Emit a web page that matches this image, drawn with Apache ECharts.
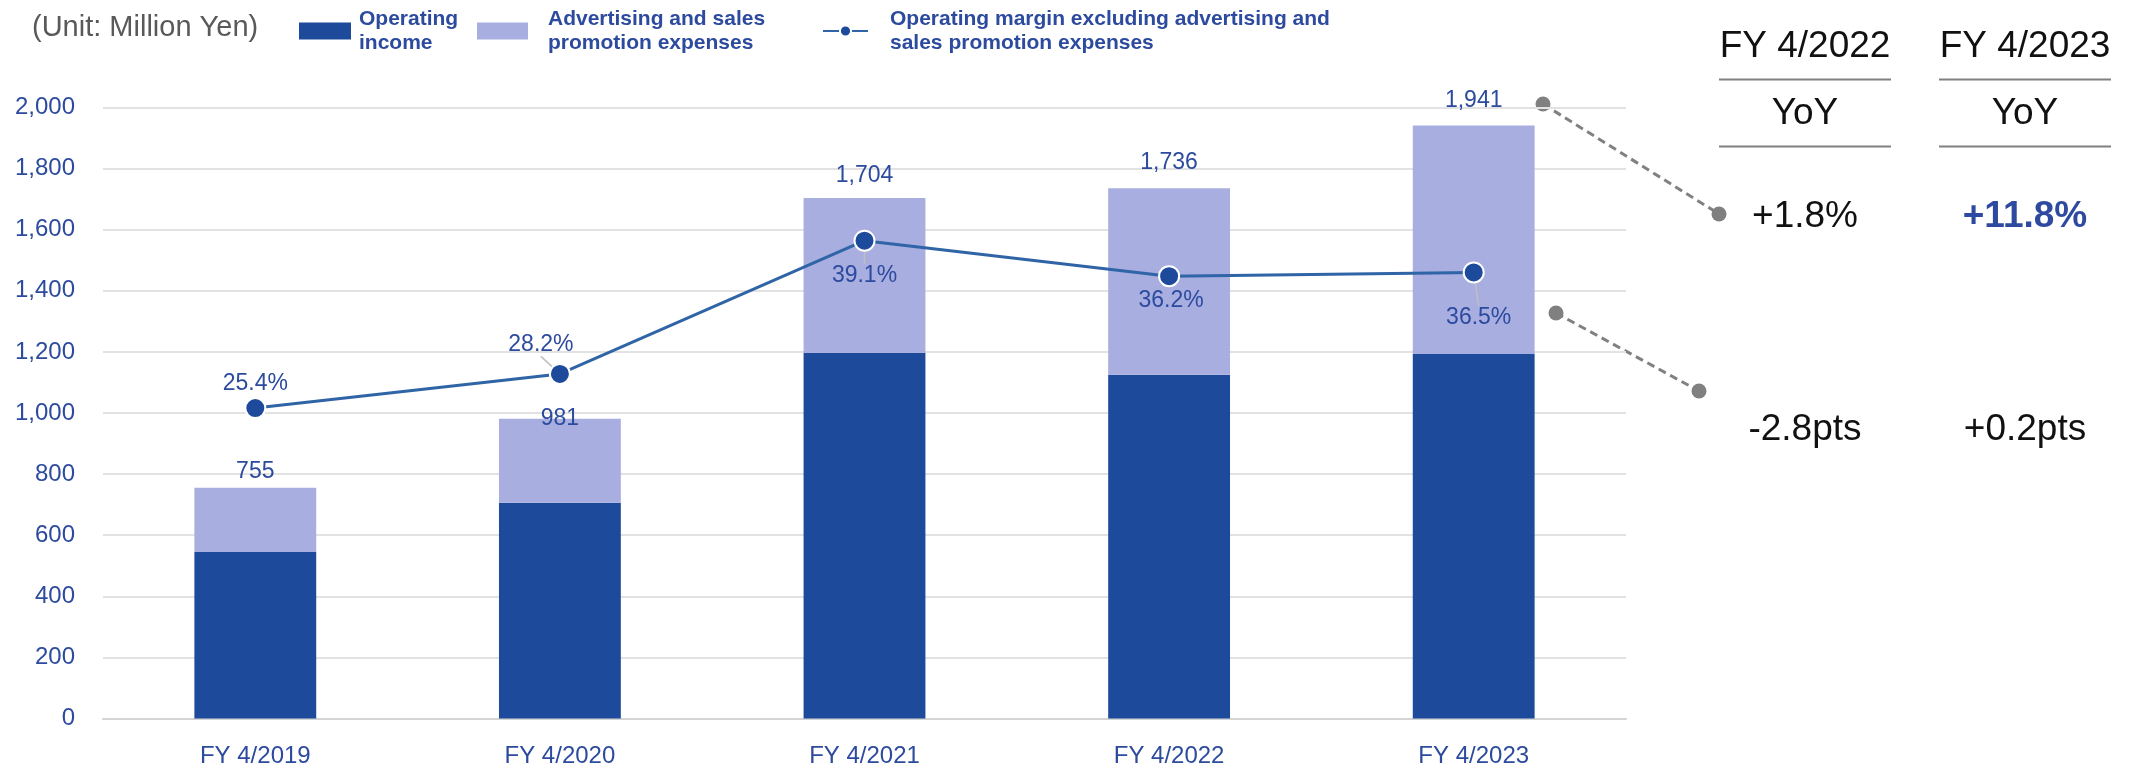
<!DOCTYPE html>
<html>
<head>
<meta charset="utf-8">
<title>Operating income and advertising expenses</title>
<script src="https://cdn.jsdelivr.net/npm/echarts@6/dist/echarts.min.js"></script>
<style>
  html, body { margin: 0; padding: 0; background: #ffffff; }
  #chart { width: 2138px; height: 772px; }
</style>
</head>
<body>
<div id="chart"></div>
<script>
// Fiscal years on the category axis
const categories = ['FY 4/2019', 'FY 4/2020', 'FY 4/2021', 'FY 4/2022', 'FY 4/2023'];
// Operating income + advertising and sales promotion expenses (Million Yen)
const incomePlusAdvertising = [755, 981, 1704, 1736, 1941];
// Operating income (Million Yen)
const operatingIncome = [545, 706, 1197, 1125, 1193];
// Operating margin excluding advertising and sales promotion expenses (%)
const marginExAdvertising = [25.4, 28.2, 39.1, 36.2, 36.5];
// Left axis ticks
const yTicks = { min: 0, max: 2000, step: 200 };
// YoY panel
const yoyYears = ['FY 4/2022', 'FY 4/2023'];
const yoyAmount = ['+1.8%', '+11.8%'];
const yoyMargin = ['-2.8pts', '+0.2pts'];

const advertising = incomePlusAdvertising.map((t, i) => t - operatingIncome[i]);

const FONT = "'Liberation Sans', Arial, Helvetica, sans-serif";
const BLUE_TEXT = '#2C4A9E';
const DARK_BAR = '#1D4A9B';
const LIGHT_BAR = '#A8AEE0';

// label nudges for the total labels (vertical offset) and margin labels
const totalLabelDy = [-1.5, 14.5, -8, -10.5, -10.5];
const marginLabelDx = [0, -19, 0, 2, 5];
const marginLabelDy = [-24.5, -29, 35, 25, 45];
const marginLeader = [false, true, true, false, true];

const chart = echarts.init(document.getElementById('chart'), null, { renderer: 'canvas' });

const legendText = {
  'Operating income': 'Operating\nincome',
  'Advertising and sales promotion expenses': 'Advertising and sales\npromotion expenses',
  'Operating margin excluding advertising and sales promotion expenses':
    'Operating margin excluding advertising and\nsales promotion expenses'
};
const legendTextStyle = (padLeft) => ({
  color: BLUE_TEXT, fontFamily: FONT, fontSize: 21, fontWeight: 'bold',
  lineHeight: 24, padding: [0, 0, 0, padLeft]
});

function panelColumn(cx, year, amount, margin, amountBold) {
  return [
    { type: 'text', x: cx, y: 47, style: { text: year, font: '37px ' + FONT, fill: '#111111', align: 'center', verticalAlign: 'middle' } },
    { type: 'line', shape: { x1: cx - 86, y1: 79.5, x2: cx + 86, y2: 79.5 }, style: { stroke: '#808080', lineWidth: 2 } },
    { type: 'text', x: cx, y: 114, style: { text: 'YoY', font: '37px ' + FONT, fill: '#111111', align: 'center', verticalAlign: 'middle' } },
    { type: 'line', shape: { x1: cx - 86, y1: 146.5, x2: cx + 86, y2: 146.5 }, style: { stroke: '#808080', lineWidth: 2 } },
    { type: 'text', x: cx, y: 217, style: { text: amount, font: (amountBold ? 'bold ' : '') + '37px ' + FONT, fill: amountBold ? '#2E4AA0' : '#111111', align: 'center', verticalAlign: 'middle' } },
    { type: 'text', x: cx, y: 430, style: { text: margin, font: '37px ' + FONT, fill: '#111111', align: 'center', verticalAlign: 'middle' } }
  ];
}

function connector(x1, y1, x2, y2) {
  return [
    { type: 'line', shape: { x1, y1, x2, y2 }, style: { stroke: '#808080', lineWidth: 3, lineDash: [8, 5] } },
    { type: 'circle', shape: { cx: x1, cy: y1, r: 7.5 }, style: { fill: '#808080' } },
    { type: 'circle', shape: { cx: x2, cy: y2, r: 7.5 }, style: { fill: '#808080' } }
  ];
}

const option = {
  backgroundColor: '#ffffff',
  animation: false,
  textStyle: { fontFamily: FONT },
  grid: { left: 103, right: 512, top: 107.5, bottom: 53.5, containLabel: false },
  legend: [
    {
      data: ['Operating income'], left: 299, top: 7, padding: 0,
      itemWidth: 52, itemHeight: 17, icon: 'rect',
      formatter: (n) => legendText[n], textStyle: legendTextStyle(3)
    },
    {
      data: ['Advertising and sales promotion expenses'], left: 477, top: 7, padding: 0,
      itemWidth: 51, itemHeight: 17, icon: 'rect',
      formatter: (n) => legendText[n], textStyle: legendTextStyle(15)
    },
    {
      data: ['Operating margin excluding advertising and sales promotion expenses'], left: 822, top: 7, padding: 0,
      itemWidth: 45, itemHeight: 14,
      formatter: (n) => legendText[n], textStyle: legendTextStyle(17)
    }
  ],
  xAxis: {
    type: 'category',
    data: categories,
    axisTick: { show: false },
    axisLine: { lineStyle: { color: '#D4D4D4', width: 2 } },
    axisLabel: { color: BLUE_TEXT, fontSize: 24, margin: 26, fontFamily: FONT }
  },
  yAxis: [
    {
      type: 'value', min: yTicks.min, max: yTicks.max, interval: yTicks.step,
      axisLine: { show: false }, axisTick: { show: false },
      axisLabel: { color: BLUE_TEXT, fontSize: 24, margin: 28, fontFamily: FONT,
        formatter: (v) => v.toLocaleString('en-US') },
      splitLine: { lineStyle: { color: '#E2E2E2', width: 2 } }
    },
    { type: 'value', min: 0, max: 50, show: false, splitLine: { show: false } }
  ],
  series: [
    {
      name: 'Operating income', type: 'bar', stack: 'total', barWidth: '40%',
      itemStyle: { color: DARK_BAR },
      data: operatingIncome
    },
    {
      name: 'Advertising and sales promotion expenses', type: 'bar', stack: 'total', barWidth: '40%',
      itemStyle: { color: LIGHT_BAR },
      label: {
        show: true, position: 'top', distance: 3, color: BLUE_TEXT, fontSize: 23, fontFamily: FONT,
        formatter: (p) => incomePlusAdvertising[p.dataIndex].toLocaleString('en-US')
      },
      data: advertising.map((v, i) => ({ value: v, label: { offset: [0, totalLabelDy[i]] } }))
    },
    {
      name: 'Operating margin excluding advertising and sales promotion expenses',
      type: 'line', yAxisIndex: 1, z: 5,
      symbol: 'circle', symbolSize: 20,
      lineStyle: { color: '#2F64A6', width: 3 },
      itemStyle: { color: DARK_BAR, borderColor: '#ffffff', borderWidth: 2 },
      label: {
        show: true, position: 'inside', color: BLUE_TEXT, fontSize: 23, fontFamily: FONT,
        formatter: (p) => p.value.toFixed(1) + '%'
      },
      labelLine: { show: false, lineStyle: { color: '#BFBFBF', width: 1.5 } },
      labelLayout: (p) => ({ dx: marginLabelDx[p.dataIndex], dy: marginLabelDy[p.dataIndex] }),
      data: marginExAdvertising.map((v, i) => ({ value: v, labelLine: { show: marginLeader[i] } }))
    }
  ],
  graphic: [
    { type: 'text', x: 32, y: 28, style: { text: '(Unit: Million Yen)', font: '29px ' + FONT, fill: '#595959', verticalAlign: 'middle' } },
    ...panelColumn(1805, yoyYears[0], yoyAmount[0], yoyMargin[0], false),
    ...panelColumn(2025, yoyYears[1], yoyAmount[1], yoyMargin[1], true),
    ...connector(1543, 104, 1719, 214),
    ...connector(1556, 313, 1699, 391)
  ]
};

chart.setOption(option);
</script>
</body>
</html>
